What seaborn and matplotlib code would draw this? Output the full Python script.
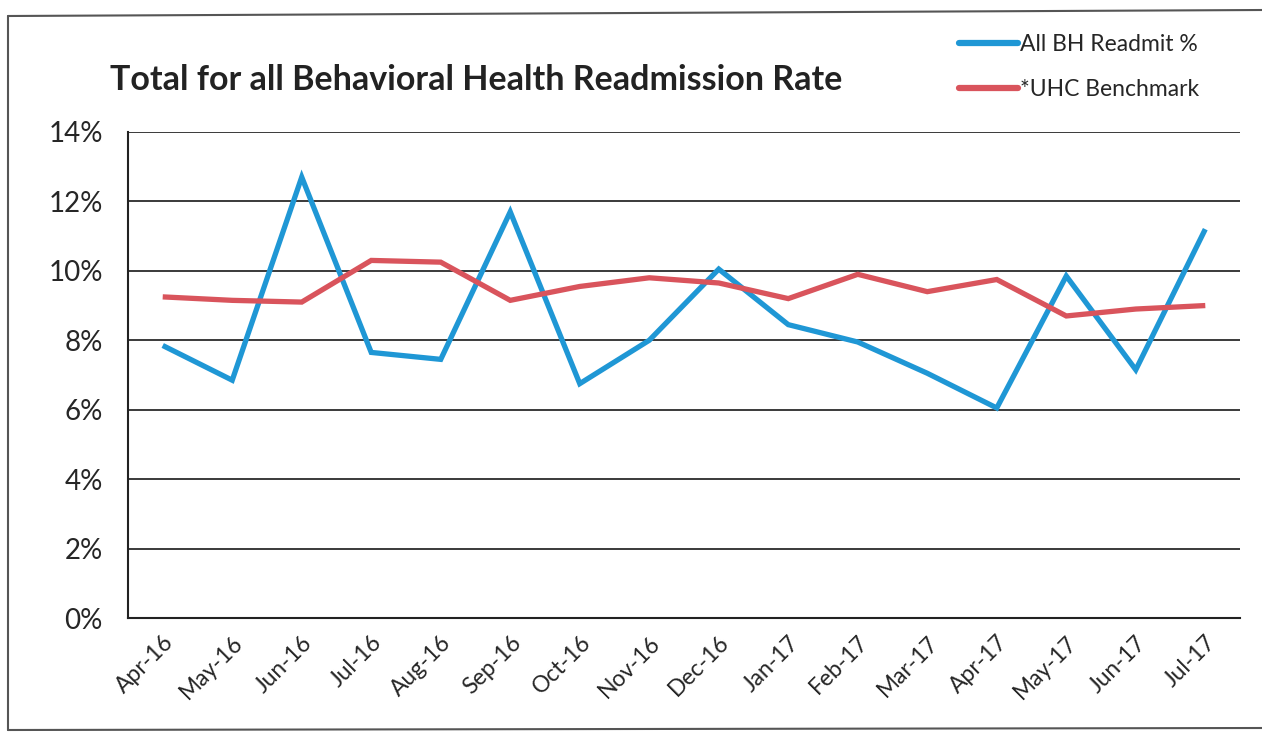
"""Total for all Behavioral Health readmission rate vs UHC benchmark, Apr-16 to Jul-17."""
import pandas as pd
import seaborn as sns
import matplotlib
matplotlib.use("Agg")
import matplotlib.pyplot as plt
from matplotlib.lines import Line2D
from matplotlib.ticker import FixedLocator, PercentFormatter

months = ["Apr-16", "May-16", "Jun-16", "Jul-16", "Aug-16", "Sep-16", "Oct-16", "Nov-16",
          "Dec-16", "Jan-17", "Feb-17", "Mar-17", "Apr-17", "May-17", "Jun-17", "Jul-17"]
bh_readmit = [7.85, 6.85, 12.7, 7.65, 7.45, 11.7, 6.75, 8.0,
              10.05, 8.45, 7.95, 7.05, 6.05, 9.85, 7.15, 11.2]
uhc_benchmark = [9.25, 9.15, 9.1, 10.3, 10.25, 9.15, 9.55, 9.8,
                 9.65, 9.2, 9.9, 9.4, 9.75, 8.7, 8.9, 9.0]
series_names = ["All BH Readmit %", "*UHC Benchmark"]
y_ticks = [0, 2, 4, 6, 8, 10, 12, 14]

df = pd.DataFrame({
    "month": months * 2,
    "x": list(range(len(months))) * 2,
    "rate": bh_readmit + uhc_benchmark,
    "series": [series_names[0]] * len(months) + [series_names[1]] * len(months),
})

sns.set_style("white")
plt.rcParams["font.family"] = ["Lato", "DejaVu Sans"]

colors = {series_names[0]: "#1f97d5", series_names[1]: "#d9545c"}

fig = plt.figure(figsize=(12.62, 7.36), dpi=100)
ax = fig.add_axes([0.1014, 0.1603, 0.8812, 0.6604])

sns.lineplot(data=df, x="x", y="rate", hue="series", palette=colors,
             linewidth=3.8, ax=ax, legend=False, sort=False)
for line in ax.get_lines():
    line.set_solid_joinstyle("miter")
    line.set_solid_capstyle("butt")

ax.set_xlim(-0.5, len(months) - 0.5)
ax.set_ylim(0, 14)
ax.set_yticks(y_ticks)
ax.yaxis.set_major_formatter(PercentFormatter(decimals=0))
ax.yaxis.grid(True, color="#2b2b2b", linewidth=1.3)
ax.set_axisbelow(True)

ax.set_xticks(range(len(months)))
ax.set_xticklabels(months, rotation=45, ha="right", rotation_mode="anchor")
ax.xaxis.set_minor_locator(FixedLocator([i - 0.5 for i in range(len(months) + 1)]))
ax.tick_params(axis="x", which="major", length=0, pad=10, labelsize=16.5)
ax.tick_params(axis="x", which="minor", length=9, width=1.3, color="#222222", direction="out")
ax.tick_params(axis="y", which="major", length=12, width=1.3, color="#222222",
               direction="out", labelsize=20, pad=6)

for side in ["top", "right"]:
    ax.spines[side].set_visible(False)
for side in ["left", "bottom"]:
    ax.spines[side].set_color("#222222")
    ax.spines[side].set_linewidth(1.5)
ax.set_xlabel("")
ax.set_ylabel("")

fig.text(110 / 1262, 1 - 80 / 736, "Total for all Behavioral Health Readmission Rate",
         fontsize=24.5, fontweight="bold", color="#222222", va="center", ha="left")

handles = [Line2D([], [], color=colors[n], linewidth=4.5) for n in series_names]
fig.legend(handles, series_names, loc="upper left", bbox_to_anchor=(938 / 1262, 1 - 13 / 736),
           frameon=False, fontsize=16.5, handlelength=2.6, handletextpad=0.1, labelspacing=1.05)

# scanned chart border
border = dict(color="#555555", linewidth=1.5, transform=fig.transFigure)
fig.add_artist(Line2D([8 / 1262, 8 / 1262], [1 - 16 / 736, 1 - 730 / 736], **border))
fig.add_artist(Line2D([8 / 1262, 1.0], [1 - 16 / 736, 1 - 10 / 736], **border))
fig.add_artist(Line2D([8 / 1262, 1.0], [1 - 730 / 736, 1 - 728 / 736], **border))

fig.savefig("out.png", dpi=100)
plt.close(fig)
